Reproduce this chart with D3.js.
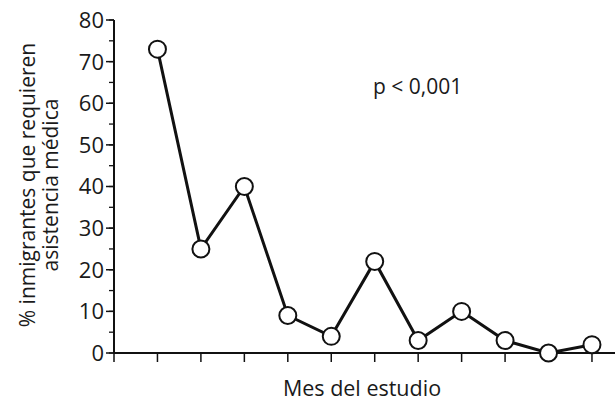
<!DOCTYPE html>
<html lang="es">
<head>
<meta charset="UTF-8">
<style>
  body { margin: 0; background: #fff; }
  text { font-family: "Open Sans", "Noto Sans", sans-serif; fill: #1a1a1a; }
</style>
</head>
<body>
<svg id="chart"></svg>
<script src="https://d3js.org/d3.v7.min.js"></script>
<script>
// Data
var months = [1, 2, 3, 4, 5, 6, 7, 8, 9, 10, 11];
var values = [73, 25, 40, 9, 4, 22, 3, 10, 3, 0, 2];
var yTicks = [0, 10, 20, 30, 40, 50, 60, 70, 80];

var width = 615, height = 407;
var margin = { left: 114, top: 20, right: 0, bottom: 54 };

var svg = d3.select("#chart").attr("width", width).attr("height", height);

var x = d3.scaleLinear().domain([0, 11.53]).range([margin.left, width]);
var y = d3.scaleLinear().domain([0, 80]).range([height - margin.bottom, margin.top]);

// y axis
var yAxis = svg.append("g").attr("transform", "translate(" + margin.left + ",0)");
yAxis.append("line").attr("y1", y(0)).attr("y2", y(80)).attr("stroke", "#111").attr("stroke-width", 2);
yAxis.selectAll(".minor").data(d3.range(0, 81, 5)).enter().append("line")
    .attr("x1", -5).attr("x2", 0).attr("y1", d => y(d)).attr("y2", d => y(d))
    .attr("stroke", "#111").attr("stroke-width", 1.3);
yAxis.selectAll(".major").data(yTicks).enter().append("line")
    .attr("x1", -8).attr("x2", 0).attr("y1", d => y(d)).attr("y2", d => y(d))
    .attr("stroke", "#111").attr("stroke-width", 1.5);
yAxis.selectAll(".lab").data(yTicks).enter().append("text")
    .attr("x", -10).attr("y", d => y(d)).attr("dy", "0.36em")
    .attr("text-anchor", "end").style("font-size", "22px").text(d => d);

// x axis
var xAxis = svg.append("g").attr("transform", "translate(0," + y(0) + ")");
xAxis.append("line").attr("x1", margin.left).attr("x2", width).attr("stroke", "#111").attr("stroke-width", 2);
xAxis.selectAll(".tick").data([0].concat(months)).enter().append("line")
    .attr("x1", d => x(d)).attr("x2", d => x(d)).attr("y1", 0).attr("y2", 9)
    .attr("stroke", "#111").attr("stroke-width", 1.5);

// line + markers
var line = d3.line().x((d, i) => x(months[i])).y(d => y(d));
svg.append("path").datum(values).attr("d", line)
    .attr("fill", "none").attr("stroke", "#111").attr("stroke-width", 3);
svg.selectAll(".pt").data(values).enter().append("circle")
    .attr("cx", (d, i) => x(months[i])).attr("cy", d => y(d)).attr("r", 8.5)
    .attr("fill", "#fff").attr("stroke", "#111").attr("stroke-width", 2);

// labels
svg.append("text").attr("x", 373).attr("y", 94).style("font-size", "21px").text("p < 0,001");
svg.append("text").attr("x", 362).attr("y", 396).attr("text-anchor", "middle")
    .style("font-size", "21.5px").text("Mes del estudio");
var yl = svg.append("text").attr("transform", "translate(35,185) rotate(-90)")
    .attr("text-anchor", "middle").style("font-size", "21px");
yl.append("tspan").attr("x", 0).attr("dy", 0).text("% inmigrantes que requieren");
yl.append("tspan").attr("x", 0).attr("dy", 23).text("asistencia médica");
</script>
</body>
</html>
